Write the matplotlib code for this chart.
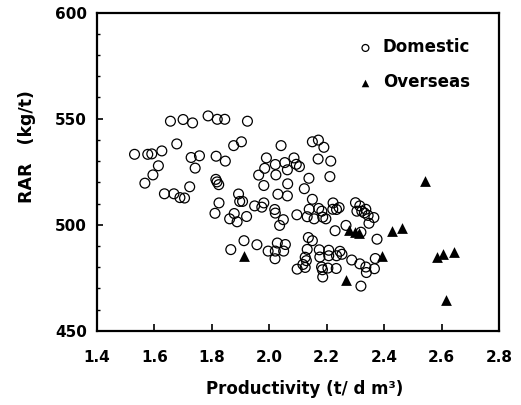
"""RAR vs productivity scatter, domestic and overseas plants."""

import matplotlib
matplotlib.use("Agg")
from matplotlib import pyplot as plt
from matplotlib.ticker import MultipleLocator

# domestic plants: productivity (t/d m3) and RAR (kg/t)
domestic_x = [
    1.531, 1.577, 1.591, 1.626, 1.678, 1.656, 1.700, 1.733, 1.787, 1.819,
    1.845, 1.924, 1.728, 1.757, 1.815, 1.847, 1.876, 1.903, 1.614, 1.595,
    1.567, 1.742, 1.814, 1.818, 1.824, 1.723, 1.635, 1.668, 1.689, 1.705,
    1.825, 1.893, 1.897, 1.907, 2.041, 2.150, 2.171, 2.190, 2.170, 2.214,
    1.990, 1.984, 2.021, 2.054, 2.086, 2.063, 2.094, 2.105, 1.963, 2.023,
    2.138, 2.211, 2.064, 1.981, 2.122, 2.030, 2.063, 2.150, 2.222, 2.243,
    1.981, 1.949, 1.974, 2.019, 2.021, 2.096, 1.811, 1.878, 1.862, 1.888,
    1.921, 2.049, 2.036, 2.139, 2.172, 2.183, 2.221, 2.234, 2.132, 2.156,
    2.186, 2.197, 2.300, 2.315, 2.322, 2.336, 2.305, 2.331, 2.344, 2.364,
    2.347, 2.267, 2.229, 2.319, 2.375, 1.912, 1.957, 1.866, 2.028, 2.056,
    1.996, 2.021, 2.050, 2.020, 2.097, 2.136, 2.150, 2.132, 2.125, 2.129,
    2.117, 2.125, 2.174, 2.207, 2.246, 2.253, 2.234, 2.207, 2.176, 2.182,
    2.185, 2.204, 2.233, 2.186, 2.287, 2.315, 2.336, 2.338, 2.366, 2.369,
    2.319,
]
domestic_y = [
    533.2, 533.2, 533.4, 534.8, 538.1, 548.8, 549.6, 548.0, 551.3, 549.7,
    549.7, 548.8, 531.7, 532.5, 532.3, 530.0, 537.3, 539.1, 527.8, 523.5,
    519.6, 526.7, 521.4, 520.2, 518.9, 517.9, 514.6, 514.6, 512.8, 512.6,
    510.3, 514.5, 511.0, 511.0, 537.3, 539.1, 539.9, 536.5, 531.0, 530.0,
    531.5, 526.6, 528.4, 529.3, 531.5, 525.9, 528.5, 527.4, 523.4, 523.5,
    521.9, 522.7, 519.3, 518.5, 517.0, 514.4, 513.6, 512.0, 510.3, 508.1,
    510.3, 508.9, 508.3, 507.2, 505.5, 504.7, 505.4, 505.3, 502.8, 501.4,
    503.9, 502.4, 499.7, 507.3, 507.7, 506.4, 507.3, 507.2, 503.8, 502.8,
    503.6, 502.8, 510.4, 508.9, 506.4, 507.3, 506.4, 505.6, 504.4, 503.4,
    500.7, 499.7, 497.2, 496.5, 493.2, 492.5, 490.6, 488.3, 491.4, 490.7,
    487.6, 487.6, 487.6, 484.0, 479.1, 494.0, 492.5, 488.4, 484.7, 483.1,
    481.3, 479.9, 488.2, 488.0, 487.5, 486.1, 485.4, 485.4, 484.8, 480.1,
    478.8, 479.6, 479.4, 475.4, 483.4, 481.6, 480.1, 477.5, 479.3, 484.1,
    471.1,
]

# overseas plants
overseas_x = [1.911, 2.268, 2.278, 2.300, 2.312, 2.394, 2.428, 2.462,
              2.543, 2.584, 2.605, 2.644, 2.616]
overseas_y = [485.3, 474.1, 497.4, 496.5, 496.0, 485.4, 496.9, 498.4,
              520.4, 484.8, 486.4, 487.3, 464.7]

plt.rcParams["font.family"] = ["DejaVu Sans"]
plt.rcParams["font.weight"] = "bold"

fig = plt.figure(figsize=(5.21, 4.05), dpi=100)
ax = fig.add_axes([0.186, 0.183, 0.772, 0.786])

ax.scatter(domestic_x, domestic_y, s=50, facecolors="none",
           edgecolors="black", linewidths=0.9, label="Domestic")
ax.scatter(overseas_x, overseas_y, s=60, marker="^", color="black",
           linewidths=0, label="Overseas")

ax.set_xlim(1.4, 2.8)
ax.set_ylim(450, 600)
ax.xaxis.set_major_locator(MultipleLocator(0.2))
ax.yaxis.set_major_locator(MultipleLocator(50))
ax.yaxis.set_minor_locator(MultipleLocator(10))
ax.xaxis.set_major_formatter(plt.FormatStrFormatter("%.1f"))

for side in ax.spines.values():
    side.set_linewidth(1.6)

ax.tick_params(axis="x", which="major", direction="in", length=5, width=1.2,
               pad=14, labelsize=11)
ax.tick_params(axis="y", which="major", direction="in", length=4, width=1.2,
               pad=7, labelsize=11)
ax.tick_params(axis="y", which="minor", direction="in", length=2, width=1)

ax.set_xlabel("Productivity (t/ d m³)", fontsize=12, fontweight="bold")
ax.set_ylabel("RAR   (kg/t)", fontsize=12.5, fontweight="bold")
# label positions as in the original figure (y label sits above centre)
ax.xaxis.set_label_coords(0.517, -0.154)
ax.yaxis.set_label_coords(-0.151, 0.578)

ax.legend(loc="upper right", bbox_to_anchor=(0.945, 0.94), frameon=False,
          markerscale=0.7, handlelength=1.3, handletextpad=0.4,
          labelspacing=1.0, borderaxespad=0,
          prop={"size": 12, "weight": "bold"})

fig.savefig("out.png", dpi=100)
